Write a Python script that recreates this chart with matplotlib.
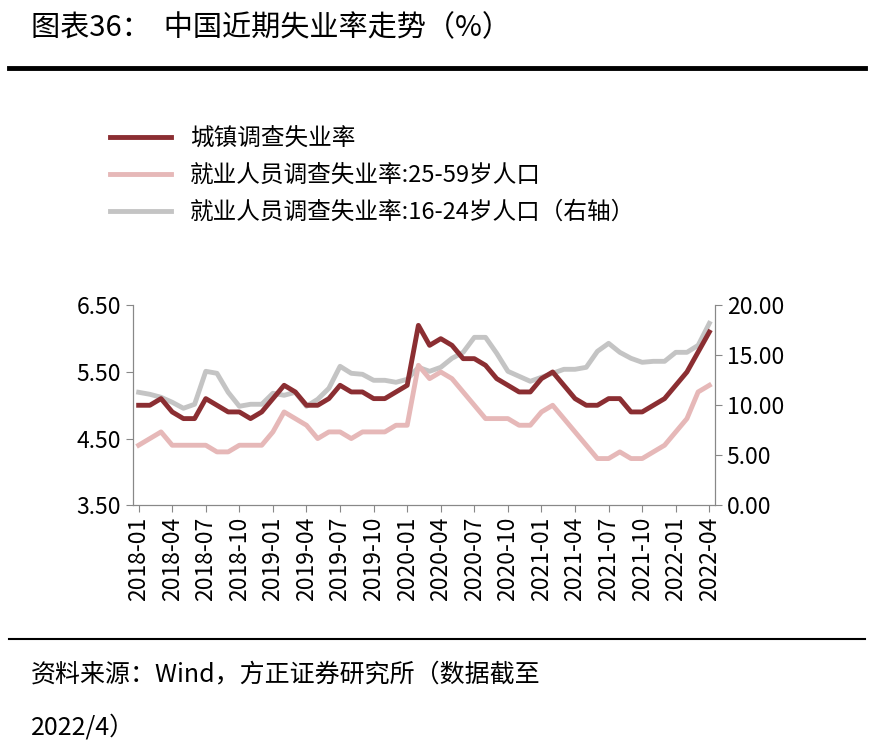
import matplotlib
matplotlib.use("Agg")
import matplotlib.pyplot as plt
import numpy as np

plt.rcParams['font.family'] = ['Noto Sans CJK SC', 'DejaVu Sans']

months = [f"{y}-{m:02d}" for y in range(2018, 2023) for m in range(1, 13)][:52]
urban = [5.0,5.0,5.1,4.9,4.8,4.8,5.1,5.0,4.9,4.9,4.8,4.9,
         5.1,5.3,5.2,5.0,5.0,5.1,5.3,5.2,5.2,5.1,5.1,5.2,
         5.3,6.2,5.9,6.0,5.9,5.7,5.7,5.6,5.4,5.3,5.2,5.2,
         5.4,5.5,5.3,5.1,5.0,5.0,5.1,5.1,4.9,4.9,5.0,5.1,
         5.3,5.5,5.8,6.1]
age25_59 = [4.4,4.5,4.6,4.4,4.4,4.4,4.4,4.3,4.3,4.4,4.4,4.4,
            4.6,4.9,4.8,4.7,4.5,4.6,4.6,4.5,4.6,4.6,4.6,4.7,
            4.7,5.6,5.4,5.5,5.4,5.2,5.0,4.8,4.8,4.8,4.7,4.7,
            4.9,5.0,4.8,4.6,4.4,4.2,4.2,4.3,4.2,4.2,4.3,4.4,
            4.6,4.8,5.2,5.3]
age16_24 = [11.3,11.1,10.8,10.3,9.7,10.1,13.4,13.2,11.3,9.9,10.1,10.1,
            11.2,11.0,11.3,9.9,10.6,11.7,13.9,13.2,13.1,12.5,12.5,12.3,
            12.6,13.8,13.4,13.8,14.7,15.3,16.8,16.8,15.2,13.4,12.9,12.4,
            12.8,13.2,13.6,13.6,13.8,15.4,16.2,15.3,14.7,14.3,14.4,14.4,
            15.3,15.3,16.0,18.2]

fig = plt.figure(figsize=(8.87, 7.54), dpi=100)
x = np.arange(len(months))
ax = fig.add_axes([0.150, 0.330, 0.656, 0.265])
ax2 = ax.twinx()
l1, = ax.plot(x, urban, color='#8B2E32', lw=3.5, zorder=3)
l2, = ax.plot(x, age25_59, color='#E6B8B8', lw=3.5, zorder=2)
l3, = ax2.plot(x, age16_24, color='#C4C4C4', lw=3.5)
ax.set_zorder(ax2.get_zorder() + 1); ax.patch.set_visible(False)
ax.set_ylim(3.5, 6.5); ax.set_yticks([3.5, 4.5, 5.5, 6.5])
ax.set_yticklabels([f"{v:.2f}" for v in [3.5, 4.5, 5.5, 6.5]])
ax2.set_ylim(0, 20); ax2.set_yticks([0, 5, 10, 15, 20])
ax2.set_yticklabels([f"{v:.2f}" for v in [0, 5, 10, 15, 20]])
ax.set_xlim(-0.5, len(months) - 0.5)
ax.set_xticks(x[::3]); ax.set_xticklabels(months[::3], rotation=90)
for a in (ax, ax2):
    a.tick_params(labelsize=16.5, color='#888888', length=5)
    a.spines['top'].set_visible(False)
    for s in ('left', 'right', 'bottom'):
        a.spines[s].set_color('#888888')

fig.text(0.035, 0.962, "图表36：  中国近期失业率走势（%）", fontsize=21, va='center')
fig.add_artist(plt.Line2D([0.01, 0.975], [0.910, 0.910], color='black', lw=3.5))
labels = ["城镇调查失业率", "就业人员调查失业率:25-59岁人口", "就业人员调查失业率:16-24岁人口（右轴）"]
fig.legend([l1, l2, l3], labels, loc='upper left', bbox_to_anchor=(0.10, 0.86),
           frameon=False, fontsize=17, handlelength=2.6, labelspacing=0.6)
fig.add_artist(plt.Line2D([0.01, 0.975], [0.152, 0.152], color='black', lw=1.5))
fig.text(0.035, 0.105, "资料来源：Wind，方正证券研究所（数据截至", fontsize=18, style='italic', va='center')
fig.text(0.035, 0.035, "2022/4）", fontsize=18, style='italic', va='center')
fig.savefig("out.png", dpi=100)
